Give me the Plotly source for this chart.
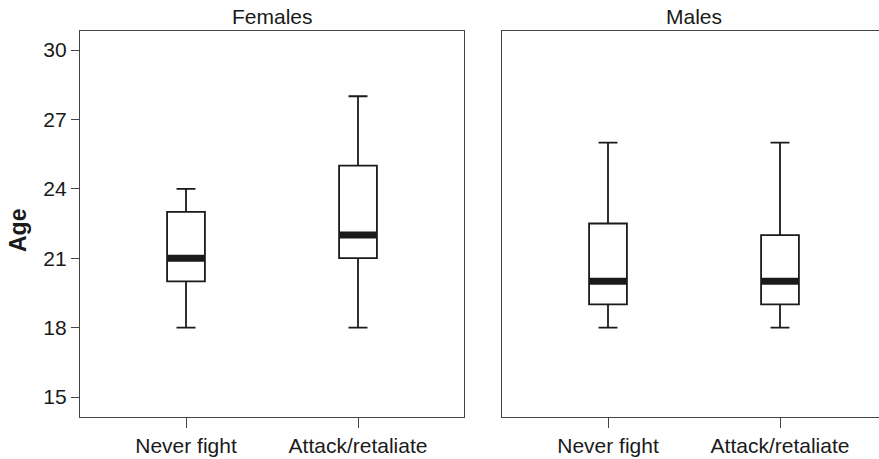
import plotly.graph_objects as go

# Age distributions by fighting behaviour, split by sex
categories = ["Never fight", "Attack/retaliate"]
panels = ["Females", "Males"]

females_lower = [18, 18]
females_q1 = [20, 21]
females_median = [21, 22]
females_q3 = [23, 25]
females_upper = [24, 28]

males_lower = [18, 18]
males_q1 = [19, 19]
males_median = [20, 20]
males_q3 = [22.5, 22]
males_upper = [26, 26]

y_ticks = [15, 18, 21, 24, 27, 30]

W, H = 879, 459
FONT = "Liberation Sans, Arial, sans-serif"
INK = "#1a1a1a"
FRAME = "#444444"
BOX_W = 0.22
positions = list(range(len(categories)))

fig = go.Figure()

series = [
    ("x", "y", females_lower, females_q1, females_median, females_q3, females_upper),
    ("x2", "y2", males_lower, males_q1, males_median, males_q3, males_upper),
]

for xa, ya, lo, q1, med, q3, hi in series:
    fig.add_trace(go.Box(
        x=positions, q1=q1, median=med, q3=q3,
        lowerfence=lo, upperfence=hi,
        width=BOX_W, whiskerwidth=0.5,
        fillcolor="rgba(255,255,255,0)",
        line=dict(color=INK, width=1.8),
        boxpoints=False, hoverinfo="skip",
        xaxis=xa, yaxis=ya, showlegend=False,
    ))
    # thick median bars
    mx, my = [], []
    for p, m in zip(positions, med):
        mx += [p - BOX_W / 2 + 0.004, p + BOX_W / 2 - 0.004, None]
        my += [m, m, None]
    fig.add_trace(go.Scatter(
        x=mx, y=my, mode="lines",
        line=dict(color=INK, width=7),
        hoverinfo="skip", xaxis=xa, yaxis=ya, showlegend=False,
    ))

px_per_cat = 172.0
left_lo = -106 / px_per_cat
left_hi = 1 + 106 / px_per_cat
right_hi = left_lo + (W - 502) / px_per_cat

common_x = dict(
    tickmode="array", tickvals=positions, ticktext=categories,
    ticks="outside", ticklen=10, tickwidth=1.2, tickcolor=FRAME,
    showline=True, linecolor=FRAME, linewidth=1.2, mirror=True,
    showgrid=False, zeroline=False,
    tickfont=dict(family=FONT, size=21, color=INK),
)

y_range = [15 - 20 / 23.133, 30 + 19 / 23.133]
y_dom = [1 - 417 / H, 1 - 31 / H]

fig.update_layout(
    width=W, height=H,
    margin=dict(l=0, r=0, t=0, b=0),
    paper_bgcolor="white", plot_bgcolor="white",
    xaxis=dict(domain=[80 / W, 464 / W], range=[left_lo, left_hi], anchor="y", **common_x),
    xaxis2=dict(domain=[502 / W, 1.0], range=[left_lo, right_hi], anchor="y2", **common_x),
    yaxis=dict(
        domain=y_dom, range=y_range, anchor="x",
        tickmode="array", tickvals=y_ticks,
        ticks="outside", ticklen=8, tickwidth=1.2, tickcolor=FRAME,
        showline=True, linecolor=FRAME, linewidth=1.2, mirror=True,
        showgrid=False, zeroline=False,
        tickfont=dict(family=FONT, size=21, color=INK),
    ),
    yaxis2=dict(
        domain=y_dom, range=y_range, anchor="x2",
        showticklabels=False, ticks="",
        showline=True, linecolor=FRAME, linewidth=1.2, mirror=False,
        showgrid=False, zeroline=False,
    ),
)

# Panel titles centred over each panel's categories
for name, xr in zip(panels, ["x", "x2"]):
    fig.add_annotation(
        text=name, x=0.5, xref=xr, y=1 - 16 / H, yref="paper",
        xanchor="center", yanchor="middle", showarrow=False,
        font=dict(family=FONT, size=21, color=INK),
    )

fig.add_annotation(
    text="<b>Age</b>", x=18 / W, xref="paper", y=1 - 231 / H, yref="paper",
    xanchor="center", yanchor="middle", textangle=-90, showarrow=False,
    font=dict(family=FONT, size=23, color=INK),
)

fig.write_html("out.html")
